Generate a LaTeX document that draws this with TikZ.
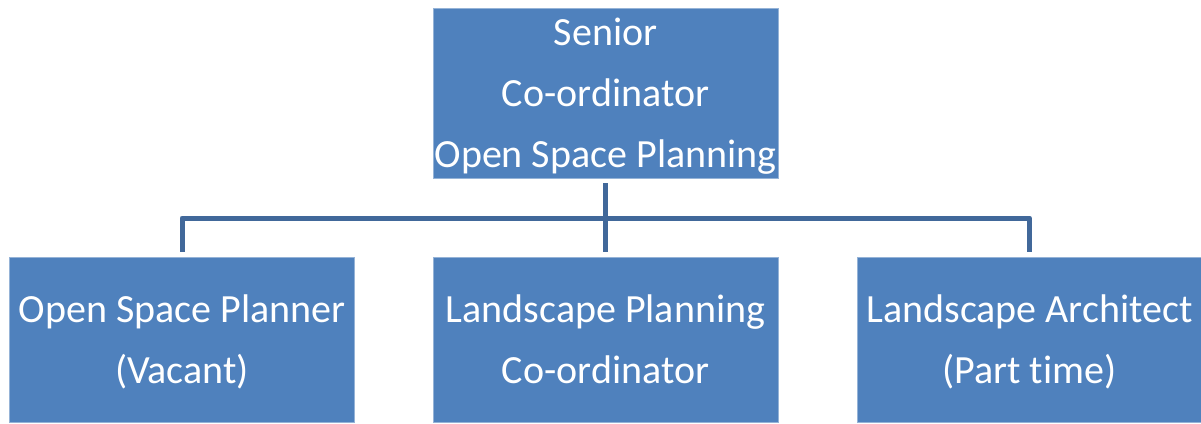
\documentclass[tikz,border=0pt]{standalone}
\usepackage{fontspec}
\setmainfont[Ligatures=CommonOff]{Carlito}
\usepackage{tikz}
\usetikzlibrary{positioning}

\definecolor{boxblue}{HTML}{4F81BD}
\definecolor{lineblue}{HTML}{41689A}

\tikzset{
  post/.style={rectangle, fill=boxblue, draw=boxblue!60!white, line width=0.8pt,
    minimum width=345pt, inner sep=0pt, align=center, text=white,
    font=\fontsize{40}{61}\selectfont, text depth=0pt},
  link/.style={draw=lineblue, line width=5pt, shorten <=5pt, shorten >=5pt}
}

\begin{document}
\begin{tikzpicture}[x=1pt, y=-1pt]
    \useasboundingbox (0,0) rectangle (1201,423);

    % Head of the section
    \node[post, minimum height=170pt, text height=148pt] (head) at (605.5,93) {Senior\\Co-ordinator\\Open Space Planning};

    % Staff under the head
    \foreach \n/\x/\t in {planner/182/{Open Space Planner\\(Vacant)}, coord/605.5/{Landscape Planning\\Co-ordinator}, arch/1029.5/{Landscape Architect\\(Part time)}} {
      \node[post, minimum height=165pt, text height=87pt] (\n) at (\x,339.5) {\t};
    }

    % Draw connectors
    \coordinate (bar) at (605.5,218);
    \draw[link] (head.south) -- (coord.north);
    \draw[link, line join=round] (planner.north) |- (bar) -| (arch.north);

\end{tikzpicture}
\end{document}
